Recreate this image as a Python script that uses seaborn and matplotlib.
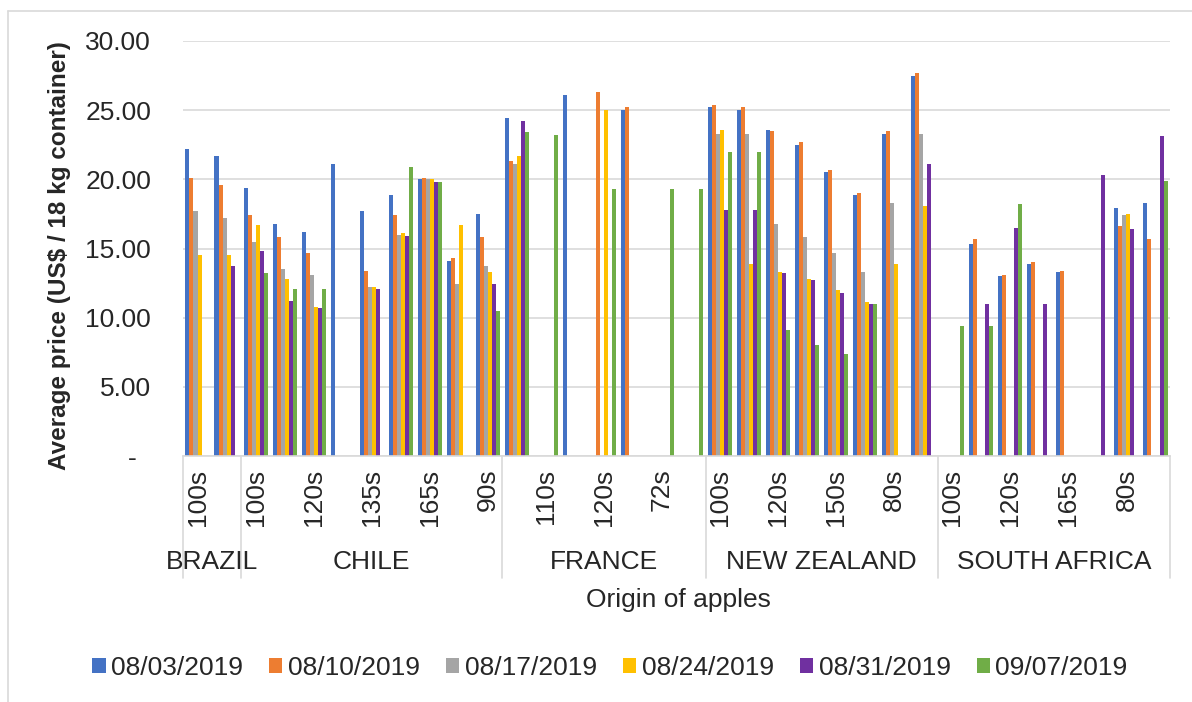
import matplotlib
matplotlib.use("Agg")
import matplotlib.pyplot as plt
import matplotlib.transforms as mtransforms
from matplotlib.lines import Line2D
import numpy as np
import pandas as pd
import seaborn as sns

# origin countries and the pack sizes under each one
countries = ["BRAZIL", "CHILE", "FRANCE", "NEW ZEALAND", "SOUTH AFRICA"]
sizes_brazil = ["100s", "110s"]
sizes_chile = ["100s", "110s", "120s", "125s", "135s", "150s", "165s", "80s", "90s"]
sizes_france = ["100s", "110s", "113s", "120s", "125s", "72s", "80s"]
sizes_nz = ["100s", "110s", "120s", "135s", "150s", "165s", "80s", "90s"]
sizes_sa = ["100s", "110s", "120s", "135s", "165s", "72s", "80s", "90s"]

dates = ["08/03/2019", "08/10/2019", "08/17/2019",
         "08/24/2019", "08/31/2019", "09/07/2019"]
colors = ["#4472C4", "#ED7D31", "#A5A5A5", "#FFC000", "#7030A0", "#70AD47"]

N = None
# average price, one value per pack size (34 slots), None = no quote
price_0803 = [22.2, 21.7,
              19.4, 16.8, 16.2, 21.1, 17.7, 18.9, 20.0, 14.1, 17.5,
              24.4, N, 26.1, N, 25.0, N, N,
              25.2, 25.0, 23.6, 22.5, 20.5, 18.9, 23.3, 27.5,
              N, 15.3, 13.0, 13.9, 13.3, N, 17.9, 18.3]
price_0810 = [20.1, 19.6,
              17.4, 15.8, 14.7, N, 13.4, 17.4, 20.1, 14.3, 15.8,
              21.3, N, N, 26.3, 25.2, N, N,
              25.4, 25.2, 23.5, 22.7, 20.7, 19.0, 23.5, 27.7,
              N, 15.7, 13.1, 14.0, 13.4, N, 16.6, 15.7]
price_0817 = [17.7, 17.2,
              15.5, 13.5, 13.1, N, 12.2, 16.0, 20.0, 12.4, 13.7,
              21.1, N, N, N, N, N, N,
              23.3, 23.3, 16.8, 15.8, 14.7, 13.3, 18.3, 23.3,
              N, N, N, N, N, N, 17.4, N]
price_0824 = [14.5, 14.5,
              16.7, 12.8, 10.8, N, 12.2, 16.1, 20.0, 16.7, 13.3,
              21.7, N, N, 25.0, N, N, N,
              23.6, 13.9, 13.3, 12.8, 12.0, 11.1, 13.9, 18.1,
              N, N, N, N, N, N, 17.5, N]
price_0831 = [N, 13.7,
              14.8, 11.2, 10.7, N, 12.1, 15.9, 19.8, N, 12.4,
              24.2, N, N, N, N, N, N,
              17.8, 17.8, 13.2, 12.7, 11.8, 11.0, N, 21.1,
              N, 11.0, 16.5, 11.0, N, 20.3, 16.4, 23.1]
price_0907 = [N, N,
              13.2, 12.1, 12.1, N, N, 20.9, 19.8, N, 10.5,
              23.4, 23.2, N, 19.3, N, 19.3, 19.3,
              22.0, 22.0, 9.1, 8.0, 7.4, 11.0, N, N,
              9.4, 9.4, 18.2, N, N, N, N, 19.9]

sizes_by_country = [sizes_brazil, sizes_chile, sizes_france, sizes_nz, sizes_sa]
series = [price_0803, price_0810, price_0817, price_0824, price_0831, price_0907]

size_labels = [s for group in sizes_by_country for s in group]
n_slots = len(size_labels)

rows = []
for date, values in zip(dates, series):
    for slot, v in enumerate(values):
        if v is not None:
            rows.append({"slot": slot, "date": date, "price": v})
df = pd.DataFrame(rows)

sns.set_style("white")
plt.rcParams["font.family"] = ["Liberation Sans", "DejaVu Sans"]
FS = 19

W, H = 1192, 702
fig = plt.figure(figsize=(W / 100, H / 100), dpi=100)
left, right, top, bottom = 183, 1170, 41, 456
ax = fig.add_axes([left / W, 1 - bottom / H, (right - left) / W, (bottom - top) / H])

sns.barplot(
    data=df, x="slot", y="price", hue="date",
    order=list(range(n_slots)), hue_order=dates,
    palette=colors, saturation=1, width=0.83, errorbar=None,
    linewidth=0, ax=ax
)

handles, labels = ax.get_legend_handles_labels()
ax.get_legend().remove()

ax.set_xlim(-0.5, n_slots - 0.5)
ax.set_ylim(0, 30)
ax.set_yticks(np.arange(0, 31, 5))
ax.set_yticklabels(["-  "] + [f"{v:.2f}" for v in np.arange(5, 31, 5)], fontsize=FS)
ax.tick_params(axis="y", length=0, pad=23)
ax.set_xticks([])
ax.set_xlabel("")
ax.set_ylabel("")
ax.yaxis.grid(True, color="#D9D9D9", linewidth=1.2)
ax.set_axisbelow(True)
for side in ["left", "right", "top"]:
    ax.spines[side].set_visible(False)
ax.spines["bottom"].set_color("#D9D9D9")
ax.spines["bottom"].set_linewidth(1.2)

# multi-level category labels below the axis
trans = mtransforms.blended_transform_factory(ax.transData, ax.transAxes)
for i, lab in enumerate(size_labels):
    if i % 2 == 0:
        ax.text(i, -0.03, lab, rotation=90, ha="center", va="top",
                fontsize=FS, transform=trans, clip_on=False)

start = -0.5
bounds = [start]
for name, group in zip(countries, sizes_by_country):
    end = start + len(group)
    ax.text((start + end) / 2, -0.255, name, ha="center", va="center",
            fontsize=FS, transform=trans, clip_on=False)
    start = end
    bounds.append(end)
for b in bounds:
    ax.plot([b, b], [0, -0.294], color="#D9D9D9", linewidth=1.2,
            transform=trans, clip_on=False)

fig.text(60 / W, 1 - 256 / H, "Average price (US$ / 18 kg container)",
         rotation=90, ha="center", va="center", fontsize=17.5, fontweight="bold")
fig.text(678 / W, 1 - 600 / H, "Origin of apples", ha="center", va="center",
         fontsize=FS)

fig.legend(handles, labels, loc="center", bbox_to_anchor=(610 / W, 1 - 668 / H),
           ncol=6, frameon=False, fontsize=FS, handlelength=0.5,
           handleheight=0.5, handletextpad=0.2, columnspacing=1.0)

# chart area border (cropped on the right and bottom)
fig.add_artist(Line2D([8 / W, 1], [1 - 11 / H, 1 - 11 / H], color="#D9D9D9",
                      linewidth=1.2, transform=fig.transFigure))
fig.add_artist(Line2D([8 / W, 8 / W], [1 - 11 / H, 0], color="#D9D9D9",
                      linewidth=1.2, transform=fig.transFigure))

fig.savefig("out.png", dpi=100)
